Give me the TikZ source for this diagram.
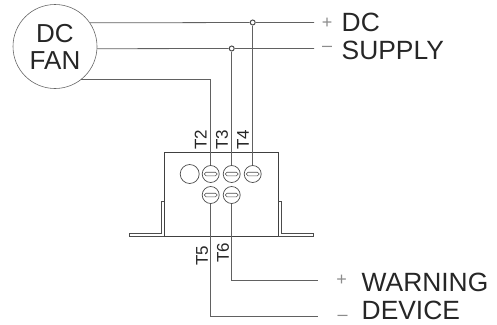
\documentclass[tikz,border=0pt]{standalone}
\usepackage{fontspec}
\setmainfont{Liberation Sans}
\tikzset{
    fan/.style = {circle, draw=black!60, line width=0.6pt, minimum size=84pt, inner sep=0pt, align=center, text=black!85, font=\fontsize{26}{27}\selectfont},
    housing/.style = {rectangle, draw=black!75, line width=0.8pt, minimum width=113.7pt, minimum height=83.3pt},
    screw/.style = {circle, draw=black!70, line width=0.7pt, minimum size=17pt, inner sep=0pt, path picture={\draw [black!70, line width=0.6pt, rounded corners=1.8pt] ([xshift=-6.5pt, yshift=-1.8pt]path picture bounding box.center) rectangle ([xshift=6.5pt, yshift=1.8pt]path picture bounding box.center);}},
    hole/.style = {circle, draw=black!70, line width=0.7pt, minimum size=19pt, inner sep=0pt},
    junction/.style = {circle, draw=black!70, line width=1pt, minimum size=5pt, inner sep=0pt},
    tag/.style = {rotate=90, text=black!85, inner sep=0pt, font=\fontsize{17}{17}\selectfont},
    title/.style = {anchor=west, text=black!85, inner sep=0pt, font=\fontsize{26.4}{26}\selectfont},
    sign/.style = {text=black!45, inner sep=0pt, font=\fontsize{18}{18}\selectfont},
    wire/.style = {draw=black!62, line width=0.8pt},
    flange/.style = {draw=black!70, line width=0.7pt}
}
\begin{document}
\begin{tikzpicture}[x=1pt, y=-1pt, node distance=21pt]
\useasboundingbox (0,0) rectangle (497,324);

\node (motor) [fan] at (55,46.5) {DC\\FAN};
\node (box) [housing] at (221.2,194.5) {};
\node (t2) [screw] at (210.7,174) {};
\node (t3) [screw, right of=t2] {};
\node (t4) [screw, right of=t3] {};
\node (blank) [hole, left of=t2] {};
\node (t5) [screw, below of=t2] {};
\node (t6) [screw, below of=t3] {};

\node (plus) [junction] at (t4 |- 0,22.5) {};
\node (minus) [junction] at (t3 |- 0,48.5) {};
\coordinate (dcend) at (314,22.5);
\coordinate (supplyend) at (314,48.5);
\coordinate (warnend) at (318,280.3);
\coordinate (devend) at (318,316.7);

\node (lt2) [tag] at (200.7,139.5) {T2};
\node (lt3) [tag] at (222,139.5) {T3};
\node (lt4) [tag] at (243,139.5) {T4};
\node (lt5) [tag] at (202,256) {T5};
\node (lt6) [tag] at (223,253) {T6};

\node (sdcp) [sign] at (327,23) {+};
\node (sdcm) [sign] at (327,49) {–};
\node (swp) [sign] at (341.5,280) {+};
\node (swm) [sign] at (342.5,318) {–};
\node (ldc) [title] at (341.5,22) {DC};
\node (lsup) [title] at (341.5,50) {SUPPLY};
\node (lwarn) [title] at (361.5,282) {WARNING};
\node (ldev) [title] at (361.5,310) {DEVICE};

\draw [wire] (motor.34) -- (plus) -- (dcend);
\draw [wire] (motor.-3) -- (minus) -- (supplyend);
\draw [wire] (motor.-52) -| (t2);
\draw [wire] (minus) -- (t3);
\draw [wire] (plus) -- (t4);
\draw [wire] (t5) |- (devend);
\draw [wire] (t6) |- (warnend);

\draw [flange] (164.3,201) -- (161,201) -- (161,233.3) -- (129,233.3) -- (129,236.7) -- (164.3,236.7);
\draw [flange] (278,201) -- (281,201) -- (281,233.3) -- (313,233.3) -- (313,236.7) -- (278,236.7);
\end{tikzpicture}
\end{document}
